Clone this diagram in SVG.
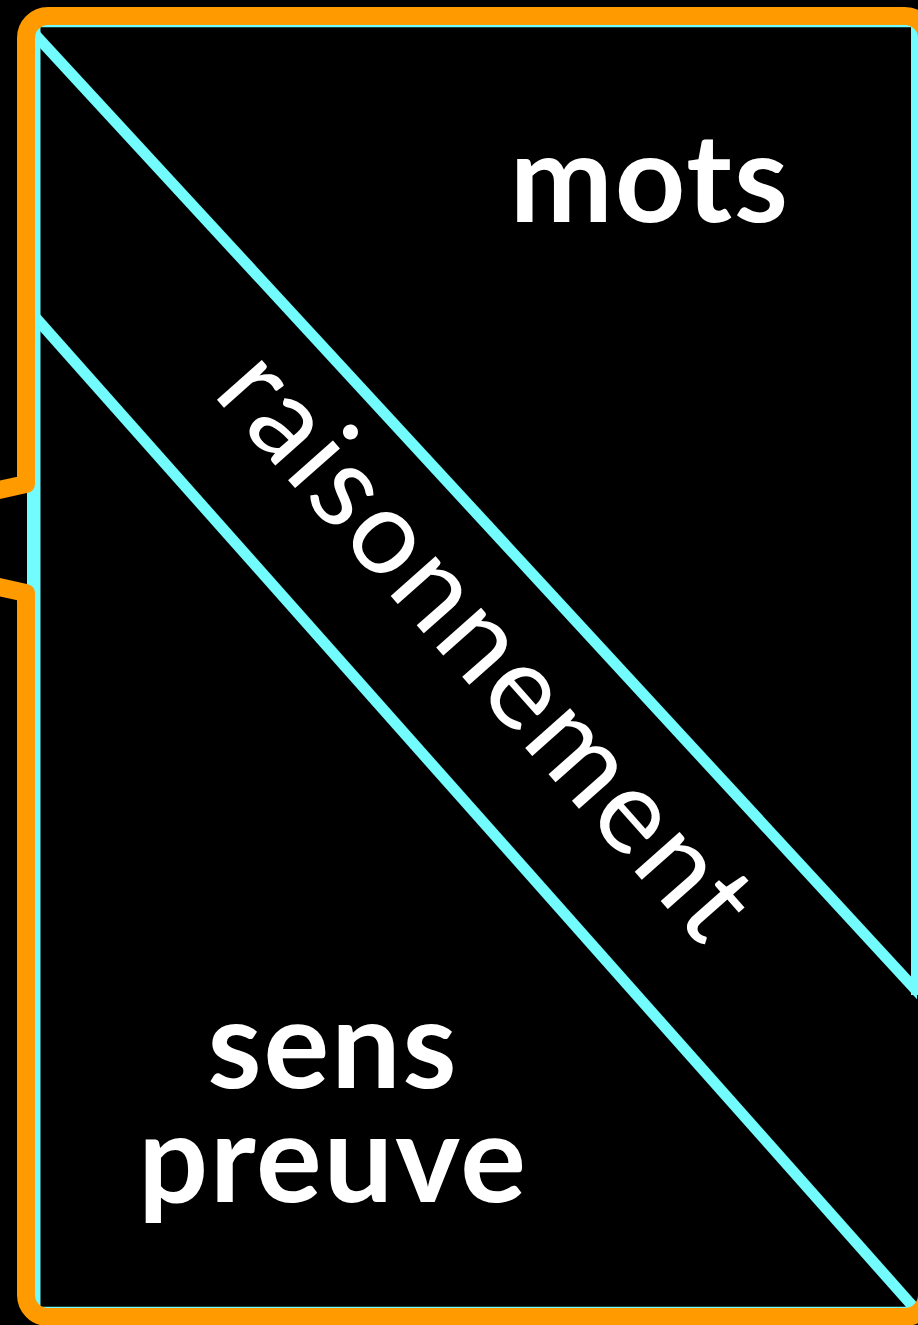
<svg xmlns="http://www.w3.org/2000/svg" width="918" height="1325" viewBox="0 0 918 1325">
<defs>
<style>
.cy{stroke:#72fcfd;fill:none}
.lbl{font-family:Lato,"Open Sans",sans-serif;fill:#ffffff}
.b{font-weight:700;font-size:123px;text-anchor:middle;letter-spacing:2px}
</style>
<clipPath id="inner"><rect x="34" y="25" width="883" height="1284"/></clipPath>
</defs>
<rect width="918" height="1325" fill="#000000"/>
<g id="connectors">
<g clip-path="url(#inner)">
<line class="cy" x1="20" y1="18.2" x2="925" y2="999.8" stroke-width="11"/>
<line class="cy" x1="20" y1="300.1" x2="935" y2="1331.3" stroke-width="11"/>
</g>
<path class="cy" d="M915,995 L915,23.3 L36.5,23.3 L36.5,1310.7 L918,1310.7" stroke-width="8"/>
<rect x="27" y="484" width="12" height="110" fill="#72fcfd"/>
</g>
<g id="frame">
<path d="M-6,491 L26,484 L26,38 A22,22 0 0 1 48,16 L905,16 A22,22 0 0 1 927,38 L927,1295 A22,22 0 0 1 905,1317 L48,1317 A22,22 0 0 1 26,1295 L26,593 L-6,586" fill="none" stroke="#ff9a00" stroke-width="18" stroke-linejoin="round"/>
</g>
<g id="mots"><text class="lbl b" x="650" y="222">mots</text></g>
<g id="raisonnement"><text class="lbl" font-size="118" letter-spacing="3" text-anchor="middle" transform="translate(458,672) rotate(48.5)">raisonnement</text></g>
<g id="sens-preuve"><text class="lbl b" x="333" y="1088">sens</text><text class="lbl b" x="333" y="1202">preuve</text></g>
</svg>
